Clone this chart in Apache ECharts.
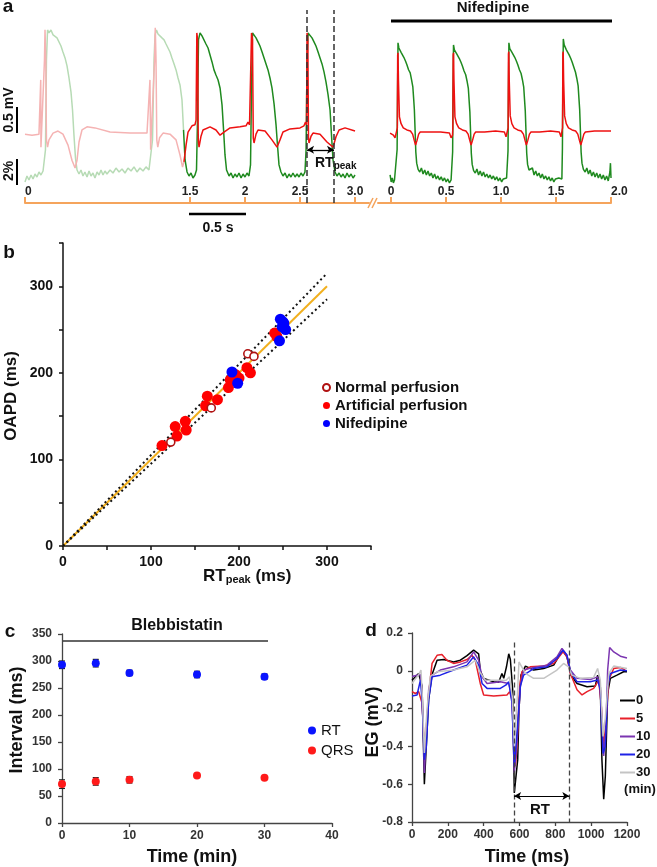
<!DOCTYPE html>
<html><head><meta charset="utf-8">
<script src="https://cdn.jsdelivr.net/npm/echarts@6/dist/echarts.min.js"></script>
<style>html,body{margin:0;padding:0;background:#fff}#c{width:657px;height:867px}</style>
</head><body><div id="c"></div>
<script>
// ---------- Panel a : optical AP (%) and electrogram (mV) vs time (s) ----------
const aTicksLeft = [0, 1.5, 2, 2.5, 3];
const aTickLabelsLeft = ['0', '1.5', '2', '2.5', '3.0'];
const aTicksRight = [0, 0.5, 1, 1.5, 2];
const aTickLabelsRight = ['0', '0.5', '1.0', '1.5', '2.0'];
const fadeEnd = 1.44;
const rtPeakStart = 2.564, rtPeakEnd = 2.809;

const greenLeft = [[0,-0.41],[0.018,0.07],[0.036,-0.25],[0.055,0.15],[0.073,-0.17],[0.091,0.23],[0.109,-0.01],[0.127,0.39],[0.145,0.15],[0.164,0.47],[0.173,0.31],[0.186,2.16],[0.195,9.39],[0.205,11.8],[0.218,11.56],[0.236,11.8],[0.255,11.4],[0.273,11.48],[0.291,11.16],[0.309,11.0],[0.327,10.51],[0.345,10.03],[0.364,9.55],[0.382,8.91],[0.4,7.94],[0.418,6.82],[0.432,5.37],[0.445,3.36],[0.459,1.5],[0.473,0.55],[0.491,0.23],[0.509,0.55],[0.527,0.07],[0.545,0.39],[0.564,-0.01],[0.582,0.47],[0.6,0.07],[0.618,0.31],[0.636,-0.09],[0.655,0.39],[0.673,0.15],[0.691,0.55],[0.709,0.15],[0.727,0.47],[0.745,0.23],[0.773,0.55],[0.8,0.31],[0.827,0.71],[0.855,0.39],[0.882,0.63],[0.909,0.31],[0.936,0.71],[0.964,0.47],[0.991,0.8],[1.018,0.39],[1.045,0.71],[1.073,0.47],[1.1,0.8],[1.127,0.55],[1.145,0.71],[1.159,2.96],[1.173,9.39],[1.182,11.4],[1.195,11.8],[1.209,11.48],[1.227,11.64],[1.245,11.16],[1.264,11.0],[1.282,10.67],[1.3,10.35],[1.318,10.03],[1.336,9.55],[1.355,9.07],[1.373,8.59],[1.391,7.94],[1.409,7.38],[1.427,6.18],[1.441,3.77],[1.455,1.36],[1.473,0.39],[1.491,0.07],[1.509,0.31],[1.527,-0.09],[1.545,0.15],[1.559,0.55],[1.568,4.57],[1.577,11.0],[1.591,11.56],[1.609,11.32],[1.627,11.16],[1.645,10.67],[1.664,10.35],[1.682,9.79],[1.7,9.23],[1.718,8.59],[1.736,8.18],[1.755,7.78],[1.773,7.14],[1.791,5.78],[1.805,3.77],[1.818,1.76],[1.832,0.55],[1.855,0.07],[1.873,0.31],[1.891,-0.09],[1.909,0.23],[1.927,-0.01],[1.945,0.31],[1.964,-0.09],[1.982,0.23],[2.0,-0.01],[2.018,0.31],[2.036,0.07],[2.05,0.96],[2.059,6.98],[2.068,11.56],[2.082,11.4],[2.1,11.16],[2.118,10.84],[2.136,10.51],[2.155,10.03],[2.173,9.55],[2.191,9.07],[2.209,8.59],[2.227,7.94],[2.245,7.14],[2.264,5.86],[2.282,4.17],[2.295,2.56],[2.309,0.96],[2.327,0.39],[2.345,0.07],[2.364,0.31],[2.382,-0.09],[2.4,0.23],[2.418,-0.01],[2.436,0.31],[2.455,-0.01],[2.473,0.23],[2.491,-0.01],[2.509,0.31],[2.527,0.07],[2.545,0.39],[2.555,2.16],[2.564,9.39],[2.573,11.56],[2.591,11.4],[2.609,11.16],[2.627,10.84],[2.645,10.51],[2.664,10.03],[2.682,9.55],[2.7,9.07],[2.718,8.43],[2.736,7.62],[2.755,6.58],[2.773,5.37],[2.786,3.36],[2.8,1.36],[2.818,0.39],[2.836,0.07],[2.855,0.31],[2.873,-0.01],[2.891,0.23],[2.909,-0.09],[2.927,0.31],[2.945,-0.01],[2.964,0.23],[2.982,-0.09],[3.0,0.15]];

const redLeft = [[0,-0.08],[0.064,-0.1],[0.127,-0.08],[0.139,-0.06],[0.143,0.96],[0.145,-0.33],[0.15,-0.06],[0.164,-0.04],[0.177,1.34],[0.182,1.92],[0.189,1.34],[0.195,-0.19],[0.205,-0.33],[0.218,-0.19],[0.255,-0.06],[0.3,-0.02],[0.345,-0.08],[0.391,-0.29],[0.427,-0.58],[0.455,-0.73],[0.473,-0.58],[0.491,-0.23],[0.518,0],[0.564,0.06],[0.636,0.04],[0.773,-0.04],[0.955,-0.06],[1.109,-0.06],[1.127,-0.04],[1.136,0.96],[1.142,-0.38],[1.148,-0.06],[1.164,-0.04],[1.178,1.34],[1.184,1.96],[1.191,1.34],[1.198,-0.19],[1.207,-0.33],[1.223,-0.15],[1.255,-0.06],[1.318,-0.08],[1.373,-0.19],[1.409,-0.48],[1.432,-0.71],[1.445,-0.61],[1.464,-0.29],[1.482,-0.04],[1.518,0.08],[1.545,0.1],[1.555,0.19],[1.562,1.86],[1.569,1.73],[1.575,-0.19],[1.582,-0.33],[1.6,-0.12],[1.618,0],[1.682,0.06],[1.736,0],[1.773,-0.1],[1.809,-0.04],[1.864,0.04],[1.955,0.06],[2.009,0.08],[2.027,0.15],[2.041,0.1],[2.059,1.86],[2.068,1.73],[2.075,-0.15],[2.082,-0.25],[2.1,-0.08],[2.118,0],[2.182,-0.02],[2.245,-0.19],[2.291,-0.33],[2.318,-0.19],[2.345,-0.04],[2.409,0.02],[2.5,0.04],[2.536,0.08],[2.55,0.15],[2.559,0.1],[2.564,1.86],[2.571,1.73],[2.577,-0.15],[2.582,-0.25],[2.6,-0.12],[2.618,-0.06],[2.682,-0.08],[2.745,-0.23],[2.8,-0.33],[2.827,-0.13],[2.855,0],[2.909,0.04],[3.0,-0.02]];

const greenRight = [[-0.01,0.15],[0.0,-0.41],[0.01,-0.09],[0.02,-0.49],[0.03,-0.25],[0.04,-0.41],[0.048,-0.17],[0.054,2.2],[0.058,7.0],[0.062,10.76],[0.07,10.35],[0.08,10.4],[0.09,10.0],[0.1,9.9],[0.115,9.6],[0.13,9.3],[0.143,9.0],[0.158,8.6],[0.173,8.35],[0.185,7.8],[0.197,7.22],[0.205,6.2],[0.211,5.37],[0.218,3.6],[0.224,2.0],[0.232,1.1],[0.245,0.6],[0.26,0.39],[0.275,0.71],[0.29,0.23],[0.305,0.55],[0.32,0.15],[0.335,0.47],[0.35,0.07],[0.365,0.31],[0.38,-0.09],[0.395,0.23],[0.41,-0.17],[0.425,0.07],[0.44,-0.25],[0.455,0.0],[0.47,-0.33],[0.485,-0.09],[0.5,-0.41],[0.515,-0.17],[0.53,-0.49],[0.545,-0.25],[0.553,-0.33],[0.559,2.0],[0.563,7.0],[0.567,10.59],[0.575,10.2],[0.585,10.3],[0.595,9.9],[0.605,9.8],[0.62,9.5],[0.635,9.2],[0.648,8.9],[0.663,8.5],[0.678,8.2],[0.69,7.7],[0.702,7.1],[0.71,6.0],[0.716,5.2],[0.723,3.4],[0.729,1.9],[0.737,1.0],[0.75,0.5],[0.765,0.31],[0.78,0.63],[0.795,0.15],[0.81,0.47],[0.825,0.07],[0.84,0.39],[0.855,-0.01],[0.87,0.23],[0.885,-0.09],[0.9,0.15],[0.915,-0.17],[0.93,0.07],[0.945,-0.25],[0.96,0.0],[0.975,-0.33],[0.99,-0.09],[1.005,-0.41],[1.02,-0.17],[1.035,-0.33],[1.05,-0.09],[1.058,-0.25],[1.063,2.1],[1.067,7.0],[1.071,10.76],[1.079,10.3],[1.089,10.35],[1.099,10.0],[1.109,9.9],[1.124,9.6],[1.139,9.3],[1.152,9.0],[1.167,8.6],[1.182,8.3],[1.194,7.8],[1.206,7.2],[1.214,6.1],[1.22,5.3],[1.227,3.5],[1.233,1.9],[1.241,1.0],[1.254,0.55],[1.27,0.39],[1.285,0.71],[1.3,0.15],[1.315,0.47],[1.33,0.07],[1.345,0.31],[1.36,-0.09],[1.375,0.23],[1.39,-0.17],[1.405,0.07],[1.42,-0.25],[1.435,0.0],[1.45,-0.33],[1.465,-0.09],[1.48,-0.41],[1.495,-0.17],[1.51,-0.33],[1.525,-0.09],[1.54,-0.25],[1.553,-0.17],[1.558,2.3],[1.562,7.5],[1.566,11.08],[1.574,10.6],[1.584,10.5],[1.594,10.2],[1.604,10.1],[1.619,9.8],[1.634,9.5],[1.647,9.2],[1.662,8.8],[1.677,8.4],[1.689,7.9],[1.701,7.3],[1.709,6.2],[1.715,5.4],[1.722,3.6],[1.728,2.0],[1.736,1.1],[1.749,0.6],[1.765,0.39],[1.78,0.71],[1.795,0.23],[1.81,0.55],[1.825,0.07],[1.84,0.39],[1.855,-0.01],[1.87,0.31],[1.885,-0.09],[1.9,0.23],[1.915,-0.17],[1.93,0.15],[1.945,-0.25],[1.96,0.07],[1.975,-0.33],[1.99,0.39],[1.995,1.1],[2.0,-0.09]];

const redRight = [[-0.01,-0.06],[0.0,-0.04],[0.02,-0.1],[0.035,-0.15],[0.048,-0.13],[0.056,0.04],[0.059,1.44],[0.062,1.48],[0.066,0.96],[0.075,0.25],[0.09,0.12],[0.11,0.04],[0.143,0],[0.175,-0.02],[0.195,-0.08],[0.21,-0.2],[0.222,-0.29],[0.235,-0.2],[0.25,-0.08],[0.264,-0.04],[0.35,-0.04],[0.45,-0.04],[0.53,-0.06],[0.545,-0.15],[0.558,-0.1],[0.561,0.04],[0.564,1.44],[0.567,1.48],[0.571,0.96],[0.58,0.25],[0.595,0.12],[0.615,0.04],[0.648,0],[0.68,-0.02],[0.7,-0.08],[0.715,-0.2],[0.727,-0.29],[0.74,-0.2],[0.755,-0.08],[0.769,-0.04],[0.85,-0.04],[0.95,-0.02],[1.03,-0.04],[1.045,-0.13],[1.058,-0.1],[1.064,0.04],[1.067,1.46],[1.07,1.5],[1.074,0.96],[1.083,0.27],[1.098,0.12],[1.118,0.04],[1.151,0],[1.183,-0.02],[1.203,-0.08],[1.218,-0.2],[1.23,-0.29],[1.243,-0.2],[1.258,-0.08],[1.272,-0.04],[1.35,-0.04],[1.45,-0.02],[1.53,-0.04],[1.545,-0.13],[1.556,-0.1],[1.559,0.04],[1.562,1.46],[1.565,1.5],[1.569,0.96],[1.578,0.27],[1.593,0.12],[1.613,0.04],[1.646,0],[1.678,-0.02],[1.698,-0.08],[1.713,-0.2],[1.725,-0.29],[1.738,-0.2],[1.753,-0.08],[1.767,-0.04],[1.85,-0.02],[1.95,-0.02],[2.0,-0.02]];

// ---------- Panel b : OAPD vs RTpeak (ms) ----------
const identityLine = [[0,0],[300,300]];
const upperBound = [[0,0],[300,315]];
const lowerBound = [[0,0],[300,285]];
const normalPerfusion = [[122.5,120],[168.5,159.5],[210,222],[217,219]];
const artificialPerfusion = [[112.5,116],[127.5,138],[129.5,127],[139,144],[140,134],[162,162],[164,173],[175.5,169],[188,183],[190,192],[194,196],[196,198],[200,194],[209,206],[213,200],[240.5,246],[243,242]];
const nifedipine = [[247,262],[251,257],[249,253],[253,250],[250,259],[246,237],[192,201],[198.5,188]];

// ---------- Panel c : intervals during blebbistatin ----------
const cTimes = [0, 5, 10, 20, 30];
const rtMean = [293, 296, 278, 275, 271];
const rtErr = [7, 7, 5, 6, 5];
const qrsMean = [72, 77, 80, 88, 84];
const qrsErr = [8, 7, 6, 2, 2];

// ---------- Panel d : electrograms (mV) vs time (ms) ----------
const egLabels = ['0', '5', '10', '20', '30'];
const eg0 = [[0,-0.05],[37,-0.014],[47,-0.02],[56,-0.08],[69,-0.6],[93,-0.15],[112,-0.02],[140,0.056],[177,0.06],[232,0.047],[270,0.056],[307,0.08],[344,0.109],[372,0.09],[381,0],[400,-0.04],[456,-0.058],[484,-0.061],[502,-0.014],[512,-0.04],[527,0.02],[540,0.09],[549,0.06],[562,-0.1],[571,-0.646],[582,-0.656],[590,-0.47],[597,-0.207],[608,-0.023],[633,0.025],[679,0.004],[735,0.012],[791,0.03],[828,0.091],[843,0.105],[865,0.074],[887,-0.023],[921,-0.067],[977,-0.084],[1023,-0.081],[1036,-0.023],[1051,-0.084],[1060,-0.47],[1070,-0.68],[1079,-0.558],[1092,-0.12],[1107,-0.04],[1144,-0.023],[1181,-0.005],[1200,-0.005]];
const eg5 = [[0,-0.11],[19,-0.12],[37,-0.11],[56,-0.17],[65,-0.33],[72,-0.45],[80,-0.3],[93,-0.12],[112,0.039],[140,0.082],[167,0.086],[195,0.056],[232,0.039],[270,0.047],[307,0.06],[335,0.082],[353,0.056],[381,-0.067],[400,-0.128],[456,-0.133],[530,-0.128],[545,-0.11],[558,-0.154],[577,-0.505],[586,-0.4],[601,-0.08],[614,-0.005],[660,0.021],[735,0.025],[791,0.039],[843,0.1],[865,0.074],[884,-0.014],[921,-0.1],[949,-0.128],[977,-0.11],[1014,-0.093],[1042,-0.049],[1057,-0.19],[1070,-0.4],[1085,-0.24],[1098,-0.049],[1126,0.012],[1163,0.018],[1190,0.004]];
const eg10 = [[0,-0.03],[46,-0.02],[56,-0.1],[69,-0.54],[80,-0.35],[93,-0.1],[112,-0.023],[158,0.004],[232,0.021],[307,0.047],[344,0.1],[372,0.056],[391,-0.032],[419,-0.067],[493,-0.058],[540,-0.067],[558,-0.14],[571,-0.54],[586,-0.38],[605,-0.08],[623,0.004],[679,0.018],[753,0.03],[809,0.074],[837,0.118],[865,0.082],[884,0.004],[921,-0.04],[995,-0.046],[1036,-0.032],[1051,-0.084],[1070,-0.45],[1083,-0.3],[1092,0.004],[1103,0.123],[1126,0.1],[1163,0.077],[1200,0.068]];
const eg20 = [[0,-0.133],[28,-0.128],[47,-0.05],[56,-0.15],[69,-0.47],[80,-0.4],[93,-0.15],[112,-0.032],[158,-0.023],[232,0.004],[307,0.03],[344,0.074],[372,0.03],[391,-0.067],[419,-0.093],[493,-0.093],[525,-0.075],[540,-0.058],[558,-0.17],[571,-0.505],[586,-0.33],[605,-0.08],[623,-0.023],[679,0.012],[753,0.021],[809,0.065],[843,0.109],[865,0.082],[884,-0.005],[921,-0.058],[995,-0.058],[1036,-0.049],[1051,-0.1],[1066,-0.437],[1079,-0.4],[1092,-0.084],[1107,-0.014],[1163,0.004],[1200,0]];
const eg30 = [[0,-0.067],[37,-0.02],[50,0.004],[57,-0.12],[69,-0.435],[84,-0.2],[102,-0.03],[140,-0.005],[232,0.004],[307,0.021],[353,0.056],[381,-0.01],[409,-0.05],[493,-0.05],[525,-0.05],[544,-0.032],[560,-0.14],[571,-0.4],[586,-0.17],[597,0.047],[608,0.039],[633,-0.014],[679,-0.04],[735,-0.04],[809,0.004],[846,0.039],[874,0.021],[893,-0.023],[940,-0.04],[1014,-0.035],[1036,0.012],[1051,-0.05],[1066,-0.347],[1079,-0.25],[1098,-0.014],[1126,0.025],[1200,0.012]];
const rtStart = 570, rtEnd = 878;

// ---------------------------------------------------------------------------
const FF = '"Liberation Sans", Arial, sans-serif';
const chart = echarts.init(document.getElementById('c'), null, {renderer: 'canvas'});

const GREEN = '#1f8a1f', GREEN_F = '#b7dbb5', RED = '#ee1111', RED_F = '#f5b3b3', ORANGE = '#f5a45c';

// split a trace at the fade boundary (the two parts share the boundary point)
function splitAt(data, t) {
  const i = data.findIndex(p => p[0] >= t);
  return [data.slice(0, i + 1), data.slice(i)];
}
const [greenFaded, greenSolid] = splitAt(greenLeft, fadeEnd);
const [redFaded, redSolid] = splitAt(redLeft, fadeEnd);

function labelMap(vals, labs) { return v => { const i = vals.findIndex(x => Math.abs(x - v) < 1e-6); return i >= 0 ? labs[i] : ''; }; }

function aXAxis(grid, min, max, ticks, labels, extra) {
  return {
    gridIndex: grid, type: 'value', min, max,
    axisLine: {show: true, onZero: false, lineStyle: {color: ORANGE, width: 2}},
    axisTick: {show: true, inside: true, length: 6, customValues: ticks, lineStyle: {color: ORANGE, width: 2}},
    axisLabel: Object.assign({show: true, inside: true, margin: 5, customValues: ticks, formatter: labelMap(ticks, labels),
      fontSize: 12, fontWeight: 'bold', color: '#222', fontFamily: FF}, extra || {}),
    splitLine: {show: false}
  };
}

const stdAxisLabel = (size, color) => ({fontSize: size, fontWeight: 'bold', color: color, fontFamily: FF});

const errData = (means, errs) => cTimes.map((t, i) => [t, means[i] - errs[i], means[i] + errs[i]]);
function errRender(params, api) {
  const x = api.value(0), lo = api.value(1), hi = api.value(2);
  const a = api.coord([x, hi]), b = api.coord([x, lo]);
  const w = 3, st = {stroke: '#222', lineWidth: 1.2};
  return {type: 'group', children: [
    {type: 'line', shape: {x1: a[0], y1: a[1], x2: b[0], y2: b[1]}, style: st},
    {type: 'line', shape: {x1: a[0] - w, y1: a[1], x2: a[0] + w, y2: a[1]}, style: st},
    {type: 'line', shape: {x1: b[0] - w, y1: b[1], x2: b[0] + w, y2: b[1]}, style: st}
  ]};
}

function T(x, y, text, size, opt) {
  opt = opt || {};
  return {type: 'text', x: x, y: y, rotation: opt.rot || 0, z: 100,
    style: {text: text, fontSize: size, fontWeight: opt.weight || 'bold', fontFamily: FF, fill: opt.fill || '#111',
      align: opt.align || 'center', verticalAlign: opt.va || 'middle', rich: opt.rich}};
}
function L(x1, y1, x2, y2, color, w) {
  return {type: 'line', z: 100, shape: {x1, y1, x2, y2}, style: {stroke: color, lineWidth: w}};
}

const egColors = ['#000000', '#e8202a', '#7b35b0', '#1e22e6', '#c4c4c4'];
const egData = [eg0, eg5, eg10, eg20, eg30];

const plainLine = (xi, yi, data, color, w, extra) => Object.assign({type: 'line', xAxisIndex: xi, yAxisIndex: yi, data: data,
  showSymbol: false, symbol: 'none', lineStyle: {color: color, width: w}, itemStyle: {color: color}}, extra || {});

const option = {
  animation: false,
  backgroundColor: '#fff',
  grid: [
    {left: 25, top: 10, width: 344, height: 193, containLabel: false},
    {left: 378, top: 10, width: 233, height: 193, containLabel: false},
    {left: 63, top: 243, width: 308, height: 303, containLabel: false},
    {left: 62, top: 634, width: 270, height: 189, containLabel: false},
    {left: 412, top: 633, width: 215, height: 189, containLabel: false}
  ],
  xAxis: [
    aXAxis(0, 0, 3.127, aTicksLeft, aTickLabelsLeft, {alignMinLabel: 'left'}),
    aXAxis(1, -0.12, 2.0, aTicksRight, aTickLabelsRight, {alignMaxLabel: 'left'}),
    {gridIndex: 2, type: 'value', min: 0, max: 350, interval: 50,
      axisLine: {onZero: false, lineStyle: {color: '#111', width: 1.5}},
      axisTick: {length: 4, lineStyle: {color: '#111', width: 1.5}},
      axisLabel: Object.assign({margin: 9, formatter: v => v % 100 === 0 ? String(v) : ''}, stdAxisLabel(14, '#111')),
      splitLine: {show: false}},
    {gridIndex: 3, type: 'value', min: 0, max: 40, interval: 10,
      axisLine: {onZero: false, lineStyle: {color: '#444', width: 1.3}},
      axisTick: {length: 4, lineStyle: {color: '#444', width: 1.3}},
      axisLabel: Object.assign({margin: 7}, stdAxisLabel(12, '#333')),
      splitLine: {show: false}},
    {gridIndex: 4, type: 'value', min: 0, max: 1200, interval: 200,
      axisLine: {onZero: false, lineStyle: {color: '#444', width: 1.3}},
      axisTick: {length: 4, lineStyle: {color: '#444', width: 1.3}},
      axisLabel: Object.assign({margin: 7, formatter: v => String(v)}, stdAxisLabel(12, '#333')),
      splitLine: {show: false}}
  ],
  yAxis: [
    {gridIndex: 0, type: 'value', min: -1.4, max: 2.3, show: false},
    {gridIndex: 0, type: 'value', min: -2.1, max: 13.4, show: false},
    {gridIndex: 1, type: 'value', min: -1.4, max: 2.3, show: false},
    {gridIndex: 1, type: 'value', min: -2.1, max: 13.4, show: false},
    {gridIndex: 2, type: 'value', min: 0, max: 350, interval: 50,
      axisLine: {show: true, onZero: false, lineStyle: {color: '#111', width: 1.5}},
      axisTick: {show: true, length: 4, lineStyle: {color: '#111', width: 1.5}},
      axisLabel: Object.assign({margin: 10, formatter: v => v % 100 === 0 ? String(v) : ''}, stdAxisLabel(14, '#111')),
      splitLine: {show: false}},
    {gridIndex: 3, type: 'value', min: 0, max: 350, interval: 50,
      axisLine: {show: true, onZero: false, lineStyle: {color: '#444', width: 1.3}},
      axisTick: {show: true, length: 4, lineStyle: {color: '#444', width: 1.3}},
      axisLabel: Object.assign({margin: 10}, stdAxisLabel(12, '#333')),
      splitLine: {show: false}},
    {gridIndex: 4, type: 'value', min: -0.8, max: 0.2, interval: 0.2,
      axisLine: {show: true, onZero: false, lineStyle: {color: '#444', width: 1.3}},
      axisTick: {show: true, length: 4, lineStyle: {color: '#444', width: 1.3}},
      axisLabel: Object.assign({margin: 9, formatter: v => String(Math.round(v * 10) / 10)}, stdAxisLabel(12, '#333')),
      splitLine: {show: false}}
  ],
  legend: [
    {data: ['Normal perfusion', 'Artificial perfusion', 'Nifedipine'], orient: 'vertical', left: 317, top: 375,
      icon: 'circle', itemWidth: 7, itemHeight: 7, itemGap: 3,
      textStyle: {fontSize: 15, fontWeight: 'bold', color: '#111', fontFamily: FF}},
    {data: ['RT', 'QRS'], orient: 'vertical', left: 303, top: 718, icon: 'circle', itemWidth: 8, itemHeight: 8, itemGap: 5,
      textStyle: {fontSize: 15, color: '#111', fontFamily: FF}},
    {data: egLabels, orient: 'vertical', left: 615, top: 689, icon: 'rect', itemWidth: 15, itemHeight: 2, itemGap: 5,
      textStyle: {fontSize: 13, fontWeight: 'bold', color: '#111', fontFamily: FF, padding: [0, 0, 0, -4]}}
  ],
  series: [
    plainLine(0, 1, greenFaded, GREEN_F, 1.5, {name: 'OAPf'}),
    plainLine(0, 0, redFaded, RED_F, 1.5, {name: 'EGf'}),
    plainLine(0, 1, greenSolid, GREEN, 1.5, {name: 'OAP',
      markLine: {silent: true, symbol: ['none', 'none'], label: {show: false},
        lineStyle: {color: '#333', type: [6, 3], width: 1.5},
        data: [{xAxis: rtPeakStart}, {xAxis: rtPeakEnd}]}}),
    plainLine(0, 0, redSolid, RED, 1.5, {name: 'EG',
      markLine: {silent: true, symbol: ['arrow', 'arrow'], symbolSize: [6, 7], label: {show: false},
        lineStyle: {color: '#000', type: 'solid', width: 1.3},
        data: [[{coord: [rtPeakStart, -0.38]}, {coord: [rtPeakEnd, -0.38]}]]}}),
    plainLine(1, 3, greenRight, GREEN, 1.5, {name: 'OAP2'}),
    plainLine(1, 2, redRight, RED, 1.5, {name: 'EG2'}),

    plainLine(2, 4, identityLine, '#f2b01e', 2, {name: 'identity', z: 1}),
    plainLine(2, 4, upperBound, '#111', 2, {name: 'upper', z: 1, lineStyle: {color: '#111', width: 2, type: [2, 3]}}),
    plainLine(2, 4, lowerBound, '#111', 2, {name: 'lower', z: 1, lineStyle: {color: '#111', width: 2, type: [2, 3]}}),
    {type: 'scatter', name: 'Artificial perfusion', xAxisIndex: 2, yAxisIndex: 4, data: artificialPerfusion, symbolSize: 11, itemStyle: {color: '#ff0000', opacity: 1}, z: 3},
    {type: 'scatter', name: 'Nifedipine', xAxisIndex: 2, yAxisIndex: 4, data: nifedipine, symbolSize: 11, itemStyle: {color: '#0000ff', opacity: 1}, z: 4},
    {type: 'scatter', name: 'Normal perfusion', xAxisIndex: 2, yAxisIndex: 4, data: normalPerfusion, symbolSize: 8, itemStyle: {color: '#ffffff', borderColor: '#b01212', borderWidth: 1.6, opacity: 1}, z: 5},

    {type: 'custom', name: 'RTerr', xAxisIndex: 3, yAxisIndex: 5, data: errData(rtMean, rtErr), renderItem: errRender, encode: {x: 0, y: [1, 2]}, z: 2},
    {type: 'custom', name: 'QRSerr', xAxisIndex: 3, yAxisIndex: 5, data: errData(qrsMean, qrsErr), renderItem: errRender, encode: {x: 0, y: [1, 2]}, z: 2},
    {type: 'scatter', name: 'RT', xAxisIndex: 3, yAxisIndex: 5, data: cTimes.map((t, i) => [t, rtMean[i]]), symbolSize: 8, itemStyle: {color: '#0a14ff', opacity: 1}, z: 3},
    {type: 'scatter', name: 'QRS', xAxisIndex: 3, yAxisIndex: 5, data: cTimes.map((t, i) => [t, qrsMean[i]]), symbolSize: 8, itemStyle: {color: '#ff1a1a', opacity: 1}, z: 3}
  ].concat(egLabels.map((nm, i) => {
    const s = plainLine(4, 6, egData[i], egColors[i], 1.5, {name: nm});
    if (i === 0) s.markLine = {silent: true, symbol: ['none', 'none'], label: {show: false},
      lineStyle: {color: '#444', type: [5, 3], width: 1.3},
      data: [[{coord: [rtStart, 0.15]}, {coord: [rtStart, -0.8]}], [{coord: [rtEnd, 0.15]}, {coord: [rtEnd, -0.8]}]]};
    if (i === 1) s.markLine = {silent: true, symbol: ['arrow', 'arrow'], symbolSize: [6, 7], label: {show: false},
      lineStyle: {color: '#000', type: 'solid', width: 1.2},
      data: [[{coord: [rtStart, -0.663]}, {coord: [rtEnd, -0.663]}]]};
    return s;
  })),
  graphic: [
    T(8, 7, 'a', 19, {}),
    T(9, 253, 'b', 19, {}),
    T(10, 632, 'c', 19, {}),
    T(371, 631, 'd', 19, {}),
    // panel a annotations
    T(9, 110, '0.5 mV', 14, {rot: Math.PI / 2}),
    L(17, 107, 17, 133, '#000', 2),
    T(9, 171, '2%', 14, {rot: Math.PI / 2}),
    L(17, 159, 17, 185, '#000', 2),
    T(493, 8, 'Nifedipine', 15, {}),
    L(391, 21, 612, 21, '#000', 3),
    L(368, 208, 373, 198, ORANGE, 1.5),
    L(372, 208, 377, 198, ORANGE, 1.5),
    L(189, 214, 246, 214, '#000', 2.5),
    T(218, 228, '0.5 s', 14, {}),
    T(315, 163, '{a|RT}{b|peak}', 14, {align: 'left', rich: {
      a: {fontSize: 14, fontWeight: 'bold', fontFamily: FF, fill: '#111', lineHeight: 16},
      b: {fontSize: 10, fontWeight: 'bold', fontFamily: FF, fill: '#111', lineHeight: 8, verticalAlign: 'bottom'}}}),
    // panel b axis titles
    T(11, 396, 'OAPD (ms)', 17, {rot: Math.PI / 2}),
    T(203, 576, '{a|RT}{b|peak}{a| (ms)}', 17, {align: 'left', rich: {
      a: {fontSize: 17, fontWeight: 'bold', fontFamily: FF, fill: '#111', lineHeight: 19},
      b: {fontSize: 11, fontWeight: 'bold', fontFamily: FF, fill: '#111', lineHeight: 9, verticalAlign: 'bottom'}}}),
    // panel c
    T(177, 626, 'Blebbistatin', 16, {}),
    L(63, 641, 268, 641, '#333', 1.5),
    T(17, 720, 'Interval (ms)', 18, {rot: Math.PI / 2}),
    T(192, 857, 'Time (min)', 18, {}),
    // panel d
    T(373, 722, 'EG (mV)', 18, {rot: Math.PI / 2}),
    T(527, 857, 'Time (ms)', 18, {}),
    T(540, 810, 'RT', 15, {}),
    T(640, 789, '(min)', 13, {})
  ]
};
chart.setOption(option);
</script></body></html>
